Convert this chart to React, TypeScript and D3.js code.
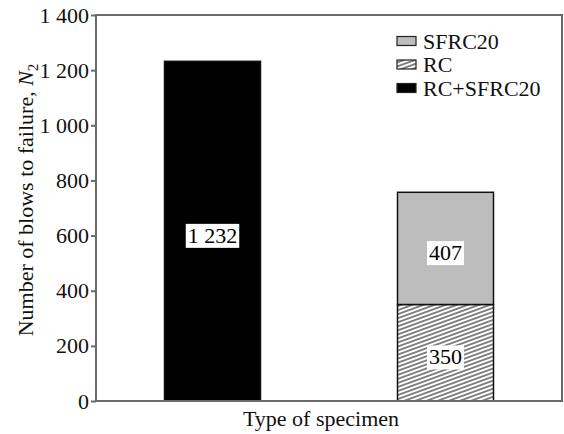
import React, { useEffect, useRef } from "react"
import * as d3 from "d3"

// data
const specimens = ["RC+SFRC20", "RC / SFRC20"]
const rcSfrc20 = [1232, 0]
const rc = [0, 350]
const sfrc20 = [0, 407]
const yTicks = [0, 200, 400, 600, 800, 1000, 1200, 1400]
const legendItems = ["SFRC20", "RC", "RC+SFRC20"]

export default function App() {
  const ref = useRef<SVGSVGElement>(null)

  useEffect(() => {
    const width = 564,
      height = 434
    const margin = { top: 15, right: 2, bottom: 33, left: 96 }
    const font = "'Liberation Serif', 'Times New Roman', serif"

    const svg = d3.select(ref.current)
    svg.selectAll("*").remove()
    svg.attr("width", width).attr("height", height)

    // hatch pattern for RC
    const defs = svg.append("defs")
    const pat = defs
      .append("pattern")
      .attr("id", "hatch")
      .attr("patternUnits", "userSpaceOnUse")
      .attr("width", 11)
      .attr("height", 3.8)
      .attr("patternTransform", "rotate(-20)")
    pat.append("rect").attr("width", 11).attr("height", 3.8).attr("fill", "#fff")
    pat
      .append("line")
      .attr("x1", 0)
      .attr("y1", 1.9)
      .attr("x2", 11)
      .attr("y2", 1.9)
      .attr("stroke", "#505050")
      .attr("stroke-width", 1.4)

    const x = d3
      .scaleBand()
      .domain(specimens)
      .range([margin.left, width - margin.right])
      .paddingInner(0.588)
      .paddingOuter(0.294)

    const y = d3
      .scaleLinear()
      .domain([0, 1400])
      .range([height - margin.bottom, margin.top])

    // stacked segments
    const segments: { key: string; cat: string; y0: number; y1: number; fill: string }[] = []
    specimens.forEach((c, i) => {
      let base = 0
      const parts = [
        { key: "RC+SFRC20", v: rcSfrc20[i], fill: "#000" },
        { key: "RC", v: rc[i], fill: "url(#hatch)" },
        { key: "SFRC20", v: sfrc20[i], fill: "#bdbdbd" },
      ]
      parts.forEach((p) => {
        if (p.v > 0) {
          segments.push({ key: p.key, cat: c, y0: base, y1: base + p.v, fill: p.fill })
          base += p.v
        }
      })
    })

    svg
      .selectAll("rect.seg")
      .data(segments)
      .enter()
      .append("rect")
      .attr("class", "seg")
      .attr("x", (d) => x(d.cat)!)
      .attr("width", x.bandwidth())
      .attr("y", (d) => y(d.y1))
      .attr("height", (d) => y(d.y0) - y(d.y1))
      .attr("fill", (d) => d.fill)
      .attr("stroke", "#111")
      .attr("stroke-width", 1.5)

    // value labels with white boxes
    const labels = svg
      .selectAll("g.lab")
      .data(segments)
      .enter()
      .append("g")
      .attr("class", "lab")
      .attr(
        "transform",
        (d) => `translate(${x(d.cat)! + x.bandwidth() / 2},${(y(d.y0) + y(d.y1)) / 2 + 4})`
      )
    labels.each(function (d) {
      const g = d3.select(this)
      const txt = d3.format(",")(d.y1 - d.y0).replace(",", " ")
      const t = g
        .append("text")
        .text(txt)
        .attr("text-anchor", "middle")
        .attr("dy", "0.35em")
        .attr("font-family", font)
        .attr("font-size", 22)
        .attr("fill", "#000")
      const bb = (t.node() as SVGTextElement).getBBox()
      g.insert("rect", "text")
        .attr("x", bb.x - 2)
        .attr("y", bb.y + 1)
        .attr("width", bb.width + 4)
        .attr("height", bb.height - 1)
        .attr("fill", "#fff")
    })

    // frame
    const axisColor = "#6a6a6a"
    svg
      .append("rect")
      .attr("x", margin.left)
      .attr("y", margin.top)
      .attr("width", width - margin.right - margin.left)
      .attr("height", height - margin.bottom - margin.top)
      .attr("fill", "none")
      .attr("stroke", axisColor)
      .attr("stroke-width", 2)

    // y axis
    const yAxis = svg
      .append("g")
      .attr("transform", `translate(${margin.left},0)`)
      .call(
        d3
          .axisLeft(y)
          .tickValues(yTicks)
          .tickSize(5)
          .tickPadding(2)
          .tickFormat((d) => d3.format(",")(d as number).replace(",", " "))
      )
    yAxis.select(".domain").remove()
    yAxis.selectAll("line").attr("stroke", axisColor).attr("stroke-width", 2)
    yAxis
      .selectAll("text")
      .attr("font-family", font)
      .attr("font-size", 22)
      .attr("fill", "#111")

    // axis titles
    const yt = svg
      .append("text")
      .attr("transform", `translate(33,${(margin.top + height - margin.bottom) / 2 - 8}) rotate(-90)`)
      .attr("text-anchor", "middle")
      .attr("font-family", font)
      .attr("font-size", 22)
      .attr("fill", "#111")
    yt.append("tspan").text("Number of blows to failure, ")
    yt.append("tspan").text("N").attr("font-style", "italic")
    yt.append("tspan").text("2").attr("font-size", 15).attr("dy", 5)

    svg
      .append("text")
      .attr("x", (margin.left + width - margin.right) / 2 - 8)
      .attr("y", 426)
      .attr("text-anchor", "middle")
      .attr("font-family", font)
      .attr("font-size", 22)
      .attr("fill", "#111")
      .text("Type of specimen")

    // legend
    const fills: Record<string, string> = {
      SFRC20: "#bdbdbd",
      RC: "url(#hatch)",
      "RC+SFRC20": "#000",
    }
    const leg = svg
      .selectAll("g.leg")
      .data(legendItems)
      .enter()
      .append("g")
      .attr("class", "leg")
      .attr("transform", (d, i) => `translate(397,${41 + i * 23.5})`)
    leg
      .append("rect")
      .attr("x", 0)
      .attr("y", -4.5)
      .attr("width", 19)
      .attr("height", 9)
      .attr("fill", (d) => fills[d])
      .attr("stroke", "#222")
      .attr("stroke-width", 1.2)
    leg
      .append("text")
      .attr("x", 26)
      .attr("dy", "0.35em")
      .attr("font-family", font)
      .attr("font-size", 22)
      .attr("fill", "#111")
      .text((d) => d)
  }, [])

  return (
    <div style={{ position: "absolute", left: 0, top: 0 }}>
      <svg ref={ref} style={{ display: "block", background: "#fff" }} />
    </div>
  )
}
